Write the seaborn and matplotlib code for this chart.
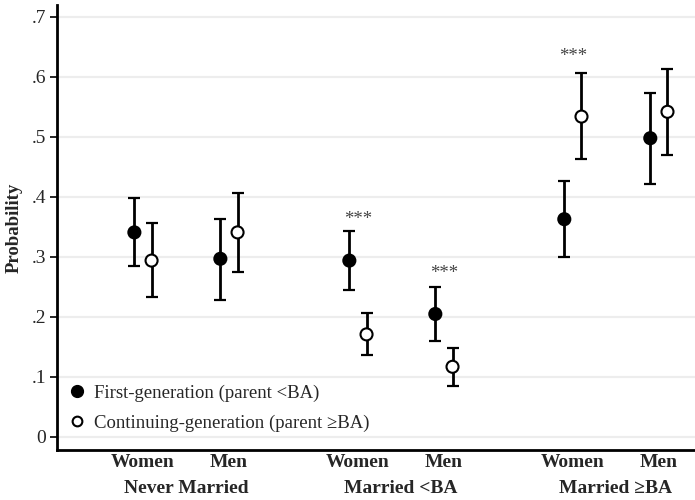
import numpy as np
import pandas as pd
import matplotlib
matplotlib.use('Agg')
import matplotlib.pyplot as plt
import matplotlib.transforms as mtransforms
from matplotlib.lines import Line2D
import seaborn as sns

# Data
groups = ['Never Married', 'Married <BA', 'Married \u2265BA']
sexes = ['Women', 'Men']
positions = [1, 2, 3.5, 4.5, 6, 7]

first_gen = [0.341, 0.297, 0.294, 0.205, 0.363, 0.498]
first_lo = [0.285, 0.229, 0.245, 0.160, 0.300, 0.422]
first_hi = [0.398, 0.363, 0.344, 0.250, 0.427, 0.574]

cont_gen = [0.294, 0.341, 0.171, 0.117, 0.534, 0.542]
cont_lo = [0.233, 0.275, 0.136, 0.085, 0.463, 0.470]
cont_hi = [0.356, 0.406, 0.207, 0.148, 0.606, 0.614]

# significance stars: (position index, y)
stars = [(2, 0.363), (3, 0.273), (4, 0.634)]

series_names = ['First-generation (parent <BA)', 'Continuing-generation (parent \u2265BA)']
offset = 0.1

rows = []
for i, p in enumerate(positions):
    rows.append({'x': p - offset, 'prob': first_gen[i], 'lo': first_lo[i], 'hi': first_hi[i], 'series': series_names[0]})
    rows.append({'x': p + offset, 'prob': cont_gen[i], 'lo': cont_lo[i], 'hi': cont_hi[i], 'series': series_names[1]})
df = pd.DataFrame(rows)

sns.set_theme(style='white')
plt.rcParams['font.family'] = ['Liberation Serif', 'DejaVu Serif']

fig = plt.figure(figsize=(6.95, 5), dpi=100)
ax = fig.add_axes([0.082, 0.10, 0.918, 0.89])

for y in np.arange(0, 0.71, 0.1):
    ax.axhline(y, color='#ededed', lw=1.6, zorder=0)

for s in series_names:
    sub = df[df['series'] == s]
    ax.errorbar(sub['x'], sub['prob'],
                yerr=[sub['prob'] - sub['lo'], sub['hi'] - sub['prob']],
                fmt='none', ecolor='black', elinewidth=2, capsize=4, capthick=1.6, zorder=2)

sns.scatterplot(data=df, x='x', y='prob', hue='series',
                palette={series_names[0]: 'black', series_names[1]: 'white'},
                edgecolor='black', linewidth=1.5, s=75, zorder=3, ax=ax, legend=False)

for idx, y in stars:
    ax.text(positions[idx], y, '***', ha='center', va='center', fontsize=13.5, color='#444444')

ax.set_xlim(0, 7.42)
ax.set_ylim(-0.0217, 0.72)
ax.set_yticks(np.arange(0, 0.71, 0.1))
ax.set_yticklabels(['0', '.1', '.2', '.3', '.4', '.5', '.6', '.7'], fontsize=14)
ax.set_xticks(positions)
ax.set_xticklabels(sexes * 3, fontsize=14, fontweight='bold')
ax.tick_params(axis='x', length=0, pad=3)
ax.tick_params(axis='y', length=5, width=1.2, color='black', left=True, pad=3)
ax.set_xlabel('')
ax.set_ylabel('Probability', fontsize=13.5, fontweight='bold', labelpad=6)

trans = mtransforms.blended_transform_factory(ax.transData, ax.transAxes)
for g, (a, b) in zip(groups, [(0, 1), (2, 3), (4, 5)]):
    ax.text((positions[a] + positions[b]) / 2, -0.087, g, transform=trans,
            ha='center', va='center', fontsize=14, fontweight='bold')

for side in ['top', 'right']:
    ax.spines[side].set_visible(False)
for side in ['left', 'bottom']:
    ax.spines[side].set_color('black')
    ax.spines[side].set_linewidth(2)

handles = [Line2D([], [], marker='o', ls='none', markerfacecolor='black', markeredgecolor='black', markersize=8.5),
           Line2D([], [], marker='o', ls='none', markerfacecolor='white', markeredgecolor='black', markeredgewidth=1.5, markersize=7)]
ax.legend(handles, series_names, loc='lower left', bbox_to_anchor=(0.0, 0.012), frameon=False,
          fontsize=13.5, handlelength=0.7, handletextpad=0.6, labelspacing=0.65, borderaxespad=0.3)

fig.savefig('out.png', dpi=100)
